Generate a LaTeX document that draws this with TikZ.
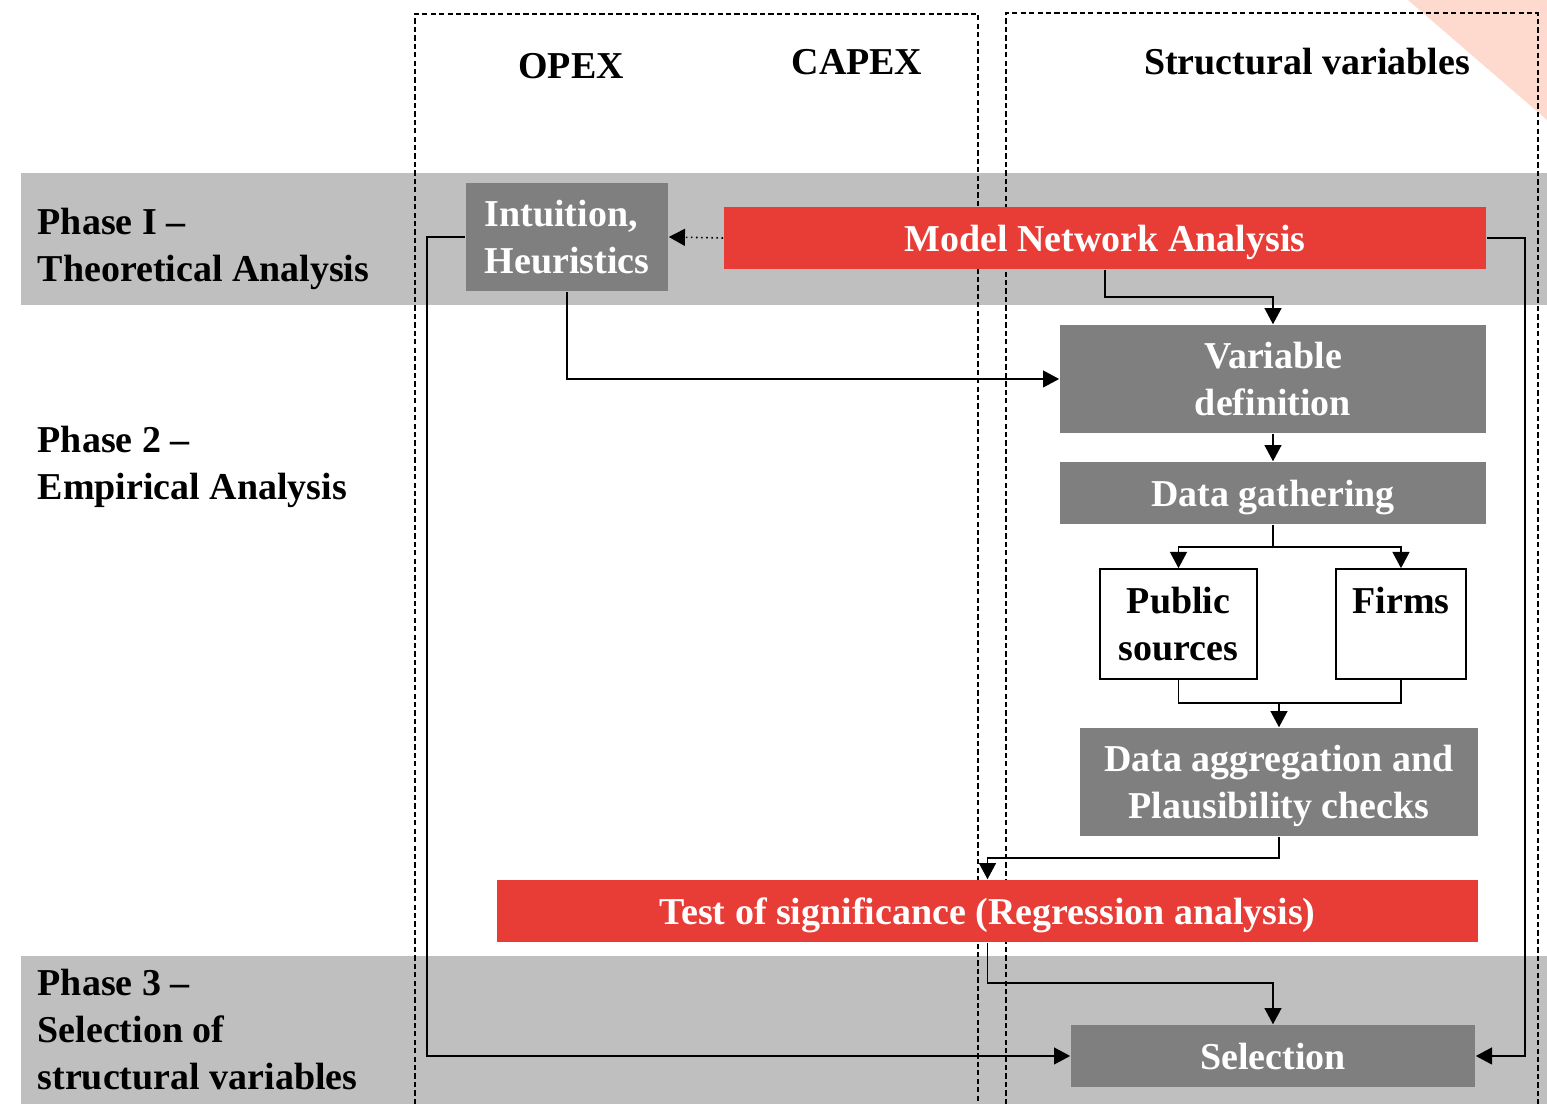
\documentclass[tikz,border=0pt]{standalone}
\usepackage{fontspec}
\setmainfont{Liberation Serif}
\usetikzlibrary{arrows.meta}
\definecolor{bandgray}{HTML}{BFBFBF}
\definecolor{boxgray}{HTML}{7F7F7F}
\definecolor{boxred}{HTML}{E83C36}
\definecolor{pinktri}{HTML}{FDD9CE}
\tikzset{
  lbl/.style={font=\fontsize{10.8}{13.4}\selectfont\bfseries, inner sep=0pt},
  gbox/.style={fill=boxgray, text=white, font=\fontsize{10.8}{13.4}\selectfont\bfseries, align=center, inner sep=0pt, text depth=0pt},
  rbox/.style={fill=boxred, text=white, font=\fontsize{10.8}{13.4}\selectfont\bfseries, align=center, inner sep=0pt, text depth=0pt},
  wbox/.style={draw=black, line width=0.45pt, fill=white, text=black, font=\fontsize{10.8}{13.4}\selectfont\bfseries, align=center, inner sep=0pt},
  conn/.style={line width=0.45pt, -{Triangle[length=4.6pt,width=4.8pt]}},
  plainconn/.style={line width=0.45pt},
  dashbox/.style={line width=0.6pt, dash pattern=on 1.5pt off 0.9pt},
}
\begin{document}
\begin{tikzpicture}[x=0.01cm,y=-0.01cm]
\useasboundingbox (0,0) rectangle (1547,1104);
% pink triangle
\fill[pinktri] (1408,0) -- (1547,0) -- (1547,120) -- cycle;
% bands
\fill[bandgray] (21,173) rectangle (1547,305);
\fill[bandgray] (21,956) rectangle (1547,1104);
% dashed columns
\draw[dashbox] (415,1104) -- (415,14) -- (978,14) -- (978,1104);
\draw[dashbox] (1006,1104) -- (1006,13) -- (1538,13) -- (1538,1104);
% headers
\node[lbl] (opex) at (571,66) {OPEX};
\node[lbl] (capex) at (857,62) {CAPEX};
\node[lbl] (struct) at (1307,62) {Structural variables};
% phase labels
\node[lbl, anchor=north west, align=left] (ph1) at (37,207) {Phase I –\\Theoretical Analysis};
\node[lbl, anchor=north west, align=left] (ph2) at (37,425) {Phase 2 –\\Empirical Analysis};
\node[lbl, anchor=north west, align=left] (ph3) at (37,968) {Phase 3 –\\Selection of\\structural variables};
% boxes
\node[gbox, align=left, minimum width=2.02cm, minimum height=1.08cm] (intu) at (567,237) {Intuition,\\Heuristics};
\node[rbox, minimum width=7.62cm, minimum height=0.62cm] (mna) at (1105,238) {Model Network Analysis};
\node[gbox, minimum width=4.26cm, minimum height=1.08cm] (vd) at (1273,379) {Variable\\definition};
\node[gbox, minimum width=4.26cm, minimum height=0.62cm] (dg) at (1273,493) {Data gathering};
\node[wbox, minimum width=1.57cm, minimum height=1.10cm] (pub) at (1178.5,624) {Public\\sources};
\node[wbox, minimum width=1.30cm, minimum height=1.10cm] (firm) at (1401,624) {Firms\\\mbox{}};
\node[gbox, minimum width=3.98cm, minimum height=1.08cm] (agg) at (1279,782) {Data aggregation and\\Plausibility checks};
\node[rbox, minimum width=9.81cm, minimum height=0.62cm] (test) at (987.5,911) {Test of significance (Regression analysis)};
\node[gbox, minimum width=4.04cm, minimum height=0.62cm] (sel) at (1273,1056) {Selection};
% connectors
\draw[conn, densely dotted] (mna.west) -- (intu.east);
\coordinate (lft) at (427,237);
\draw[conn] (intu.west) -- (lft) |- (sel.west);
\draw[conn] (intu.south) |- (vd.west);
\coordinate (mnab) at (1105,297);
\draw[conn] (mna.south) -- (mnab) -| (vd.north);
\coordinate (rgt) at (1525,238);
\draw[conn] (mna.east) -- (rgt) |- (sel.east);
\draw[conn] (vd.south) -- (dg.north);
\coordinate (split) at (1273,547);
\draw[plainconn] (dg.south) -- (split);
\draw[conn] (split) -| (pub.north);
\draw[conn] (split) -| (firm.north);
\coordinate (pubb) at (1178.5,703);
\coordinate (join) at (1279,703);
\draw[plainconn] (pub.south) -- (pubb) -| (firm.south);
\draw[conn] (join) -- (agg.north);
\coordinate (aggb) at (1279,858);
\draw[conn] (agg.south) -- (aggb) -| (test.north);
\coordinate (testb) at (987.5,983);
\draw[conn] (test.south) -- (testb) -| (sel.north);
\end{tikzpicture}
\end{document}
